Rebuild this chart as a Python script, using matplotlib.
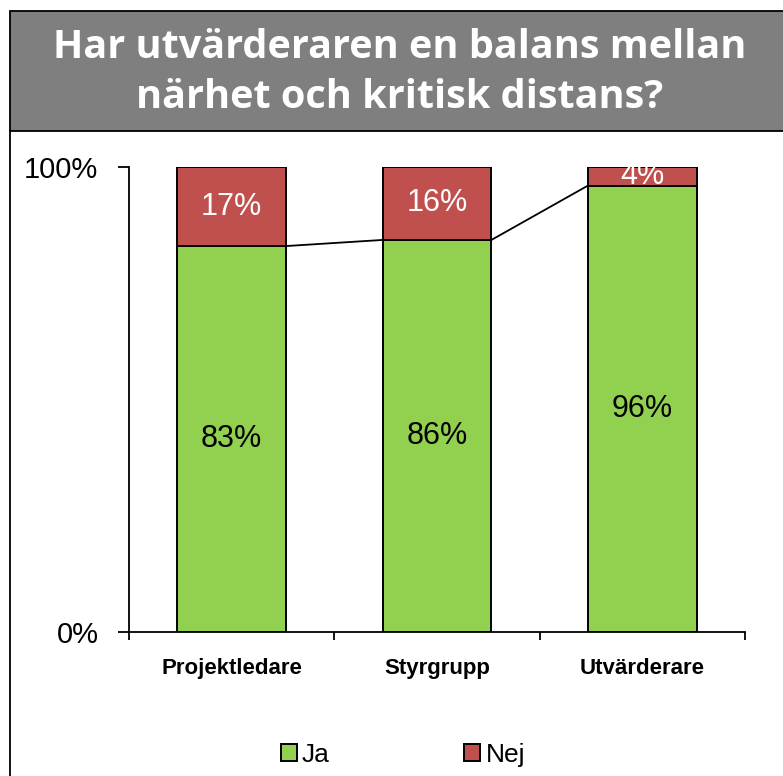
import numpy as np
import matplotlib.pyplot as plt
from matplotlib.patches import Rectangle
from matplotlib.lines import Line2D

# Dados do gráfico -----------------------------------------------
categorias = ["Projektledare", "Styrgrupp", "Utvärderare"]
ja = [83, 86, 96]    # Ja (%)
nej = [17, 16, 4]    # Nej (%)
titulo = ["Har utvärderaren en balans mellan", "närhet och kritisk distans?"]

verde = "#92D050"
vermelho = "#C0504D"
cinza = "#7F7F7F"

W, H = 783, 776
fig = plt.figure(figsize=(W/100, H/100), dpi=100)
px = lambda x: x/W
py = lambda y: 1 - y/H

# Banner do título -----------------------------------------------
fig.patches.append(Rectangle((px(10), py(131)), 1.2, (131-11)/H, transform=fig.transFigure,
                             facecolor=cinza, edgecolor="black", linewidth=1.3, zorder=0))
fig.add_artist(Line2D([px(10), px(10)], [py(131), -0.1], transform=fig.transFigure,
                      color="black", linewidth=1.3))
fig.text(px(400), py(58), titulo[0], color="white", fontsize=28.5, fontweight="bold",
         family="Open Sans", ha="center", va="baseline")
fig.text(px(400), py(108), titulo[1], color="white", fontsize=28.5, fontweight="bold",
         family="Open Sans", ha="center", va="baseline")

# Barras 100% empilhadas -----------------------------------------
ax = fig.add_axes([px(129), py(632), (745-129)/W, (632-167)/H])
x = np.arange(len(categorias))
tot = np.array(ja) + np.array(nej)
f_ja = np.array(ja)/tot
f_nej = np.array(nej)/tot
larg = 0.53
ax.bar(x, f_ja, larg, color=verde, edgecolor="black", linewidth=1.4, label="Ja", zorder=2)
ax.bar(x, f_nej, larg, bottom=f_ja, color=vermelho, edgecolor="black", linewidth=1.4,
       label="Nej", zorder=2)

# Linhas de série
for i in range(len(x)-1):
    ax.plot([x[i]+larg/2, x[i+1]-larg/2], [f_ja[i], f_ja[i+1]], color="black", linewidth=1.3, zorder=3)

# Rótulos
for i in range(len(x)):
    ax.text(x[i], f_ja[i]/2, "{}%".format(ja[i]), ha="center", va="center", fontsize=22,
            family="Liberation Sans", color="black", clip_on=True, zorder=4)
    ax.text(x[i], f_ja[i]+f_nej[i]/2, "{}%".format(nej[i]), ha="center", va="center", fontsize=22,
            family="Liberation Sans", color="white", clip_on=True, zorder=4)

# Eixos
ax.set_xlim(-0.5, 2.5)
ax.set_ylim(0, 1)
ax.spines["top"].set_visible(False)
ax.spines["right"].set_visible(False)
ax.spines["left"].set_linewidth(1.3)
ax.spines["bottom"].set_linewidth(1.3)
ax.set_yticks([0, 1], ["0%", "100%"], fontsize=21, family="Liberation Sans")
ax.tick_params(axis="y", length=8, width=1.3, pad=14)
ax.set_xticks([-0.5, 0.5, 1.5, 2.5], ["", "", "", ""])
ax.tick_params(axis="x", which="major", length=6, width=1.3)
ax.set_xticks(x, categorias, minor=True, fontsize=16, fontweight="bold", family="Liberation Sans")
ax.tick_params(axis="x", which="minor", length=0, pad=19)

fig.legend(loc="center", bbox_to_anchor=(px(403), py(755)), ncol=2, frameon=False,
           prop={"family": "Liberation Sans", "size": 19}, handlelength=0.6, handleheight=0.6,
           handletextpad=0.2, columnspacing=5.1, borderpad=0)

plt.savefig("out.png", dpi=100)
